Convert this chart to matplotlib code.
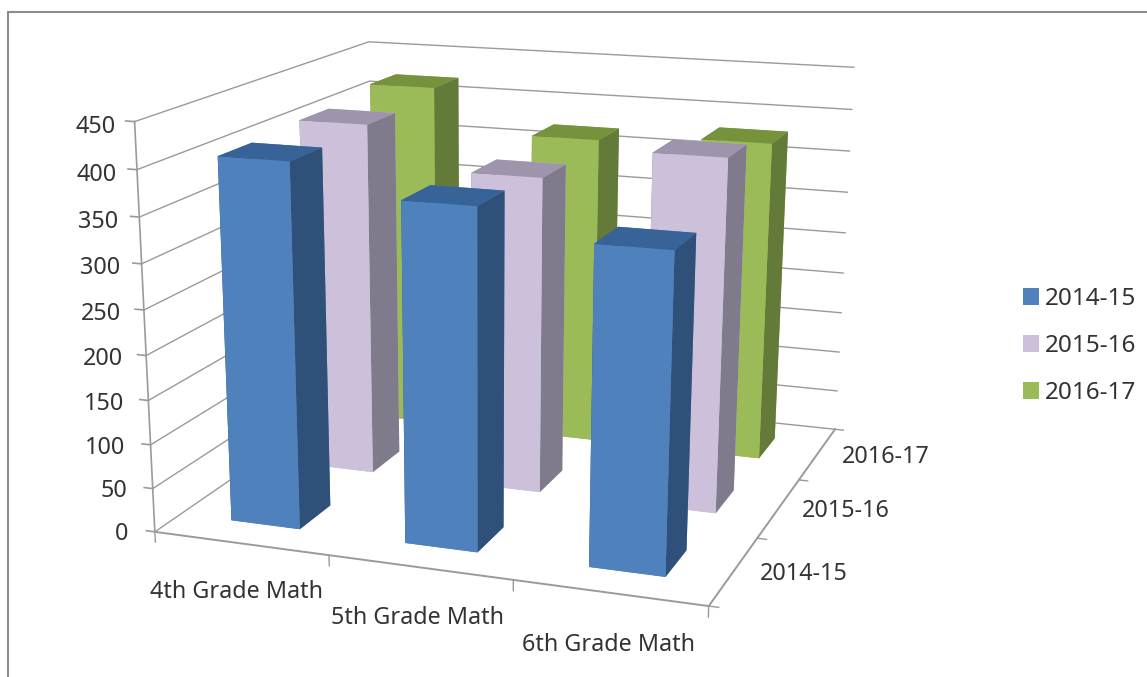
import matplotlib
matplotlib.use("Agg")
import matplotlib.pyplot as plt
from matplotlib.patches import Patch, Rectangle
from mpl_toolkits.mplot3d import proj3d

plt.rcParams['font.family'] = ['Noto Sans', 'DejaVu Sans']

categories = ['4th Grade Math', '5th Grade Math', '6th Grade Math']
series = ['2014-15', '2015-16', '2016-17']
values_1415 = [407, 375, 346]
values_1516 = [411, 365, 401]
values_1617 = [421, 371, 380]
z_ticks = [0, 50, 100, 150, 200, 250, 300, 350, 400, 450]

# front, side, top
front_colors = ['#4F81BD', '#CCC0DA', '#9BBB59']
side_colors = ['#2F5179', '#7F7A8C', '#647A39']
top_colors = ['#386399', '#9E94AB', '#76923C']
grid_color = '#9A9A9A'
text_color = '#333333'
font_size = 16.8

W, H = 1147, 677
fig = plt.figure(figsize=(W / 100, H / 100), dpi=100, facecolor='white')
fig.add_artist(Rectangle((8 / W, -0.05), 1.2, 1.05 - 12 / H, transform=fig.transFigure,
                         fill=False, edgecolor='#8C8C8C', linewidth=1.5))

# limits are wider than the drawn box so the camera looks at the floor
size = 1108
ax = fig.add_axes([-86 / W, -352 / H, size / W, size / H],
                  projection='3d', computed_zorder=False)
ax.patch.set_alpha(0)
ax.set_proj_type('persp', focal_length=0.3755)
ax.view_init(elev=18.5, azim=-69.9)
ax.set_box_aspect((620, 594, 752), zoom=1.0)
ax.set_xlim(-0.575, 3)
ax.set_ylim(0, 3.44)
ax.set_zlim(-450, 450)
ax.set_xticks([])
ax.set_yticks([])
ax.set_zticks([])
ax.set_axis_off()


def label3d(x, y, z, s, ha):
    px, py, _ = proj3d.proj_transform(x, y, z, ax.get_proj())
    ax.text2D(px, py, s, transform=ax.transData, ha=ha, va='center',
              fontsize=font_size, color=text_color)


# walls and floor
for z in z_ticks:
    ax.plot([0, 0, 3], [0, 3, 3], [z, z, z], color=grid_color, lw=1, zorder=1)
ax.plot([0, 0], [0, 0], [0, 450], color=grid_color, lw=1.2, zorder=1)
ax.plot([0, 3, 3], [0, 0, 3], [0, 0, 0], color=grid_color, lw=1.4, zorder=1)

# ticks
for z in z_ticks:
    ax.plot([-0.05, 0], [0, 0], [z, z], color=grid_color, lw=1.2, zorder=1)
    label3d(-0.16 + z / 450 * 0.05, 0, z - 7, str(z), 'right')
for i in range(4):
    ax.plot([i, i], [0, 0], [0, -12], color=grid_color, lw=1, zorder=1)
for j in range(4):
    ax.plot([3, 3.05], [j, j], [0, 0], color=grid_color, lw=1, zorder=1)
for x, name in zip([0.78, 1.735, 2.685], categories):
    label3d(x, -0.62, 0, name, 'center')
for x, y, name in zip([3.34, 3.35, 3.38], [0.58, 1.58, 2.58], series):
    label3d(x, y, 0, name, 'center')

# bars, back row first
bar_w, bar_d = 0.40, 0.40
all_values = [values_1415, values_1516, values_1617]
order = 10
for j in [2, 1, 0]:
    for i in range(3):
        # faces: bottom, top, front, back, left, right
        cols = [front_colors[j], top_colors[j], front_colors[j], front_colors[j],
                side_colors[j], side_colors[j]]
        ax.bar3d(i + 0.5 - bar_w / 2, j + 0.5 - bar_d / 2, 0, bar_w, bar_d, all_values[j][i],
                 color=cols, shade=False, zorder=order)
        order += 1

handles = [Patch(facecolor=c, edgecolor='none') for c in front_colors]
fig.legend(handles, series, loc='center left', bbox_to_anchor=(1001 / W, 1 - 346 / H),
           frameon=False, fontsize=17.5, labelcolor=text_color, handlelength=0.66, handleheight=0.66,
           handletextpad=0.25, labelspacing=0.95)

fig.savefig('out.png', dpi=100)
